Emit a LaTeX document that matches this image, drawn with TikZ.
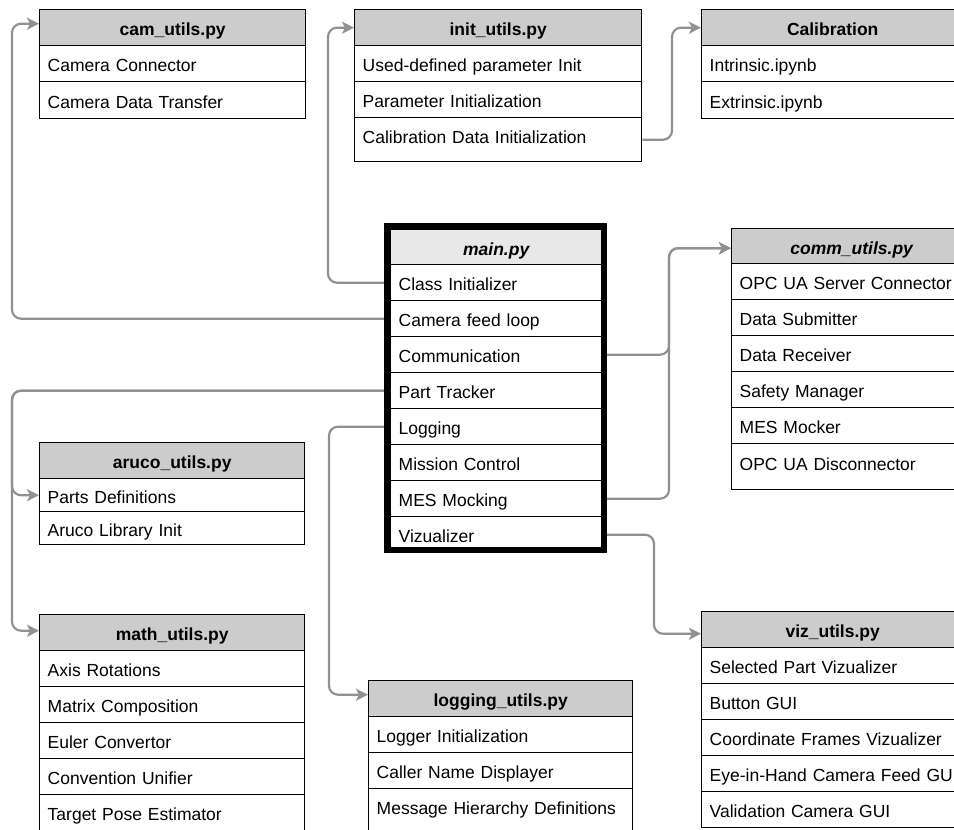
\documentclass[tikz,border=0pt]{standalone}
\usepackage{fontspec}
\setmainfont{Liberation Sans}
\usetikzlibrary{arrows.meta}
\definecolor{hdrgray}{RGB}{204,204,204}
\definecolor{mainhdr}{RGB}{232,232,232}
\definecolor{linkgray}{RGB}{145,145,145}
\newcommand\boxfont{\fontsize{17.5}{21}\selectfont}
\tikzset{
  cell/.style={draw=black, line width=1.4pt, anchor=north west, inner xsep=8pt,
    inner ysep=0pt, text height=20pt, text depth=4pt, font=\boxfont},
  hdr/.style 2 args={cell, fill=hdrgray, text width=#1, minimum height=#2,
    align=center, font=\boxfont\bfseries},
  ihdr/.style 2 args={hdr={#1}{#2}, font=\boxfont\bfseries\itshape},
  row/.style 2 args={cell, fill=white, text width=#1, minimum height=#2, align=left},
  link/.style={draw=linkgray, line width=2.2pt, rounded corners=9pt,
    -{Stealth[length=12pt,width=12pt,inset=3pt]}},
}
\begin{document}
\begin{tikzpicture}[x=1pt,y=-1pt]
\useasboundingbox (0,0) rectangle (954,830);
\clip (0,0) rectangle (954,830);

% cam_utils.py
\node[hdr={250pt}{36pt}] (ch) at (39,9) {cam\_utils.py};
\node[row={250pt}{36pt}] (c1) at (39,45) {Camera Connector};
\node[row={250pt}{37pt}] (c2) at (39,81) {Camera Data Transfer};

% init_utils.py
\node[hdr={271pt}{36pt}] (ih) at (354,9) {init\_utils.py};
\node[row={271pt}{36pt}] (i1) at (354,45) {Used-defined parameter Init};
\node[row={271pt}{36pt}] (i2) at (354,81) {Parameter Initialization};
\node[row={271pt}{44pt}, text depth=12pt] (i3) at (354,117) {Calibration Data Initialization};

% Calibration
\node[hdr={246pt}{36pt}] (kh) at (701,9) {Calibration};
\node[row={246pt}{36pt}] (k1) at (701,45) {Intrinsic.ipynb};
\node[row={246pt}{37pt}] (k2) at (701,81) {Extrinsic.ipynb};

% main.py
\node[ihdr={195pt}{35pt}, fill=mainhdr] (mh) at (390,229) {main.py};
\node[row={195pt}{36pt}] (m1) at (390,264) {Class Initializer};
\node[row={195pt}{36pt}] (m2) at (390,300) {Camera feed loop};
\node[row={195pt}{36pt}] (m3) at (390,336) {Communication};
\node[row={195pt}{36pt}] (m4) at (390,372) {Part Tracker};
\node[row={195pt}{36pt}] (m5) at (390,408) {Logging};
\node[row={195pt}{36pt}] (m6) at (390,444) {Mission Control};
\node[row={195pt}{36pt}] (m7) at (390,480) {MES Mocking};
\node[row={195pt}{36pt}] (m8) at (390,516) {Vizualizer};

% comm_utils.py
\node[ihdr={224pt}{35pt}] (cmh) at (731,228) {comm\_utils.py};
\node[row={224pt}{36pt}] (r1) at (731,263) {\mbox{OPC UA Server Connector}};
\node[row={224pt}{36pt}] (r2) at (731,299) {Data Submitter};
\node[row={224pt}{36pt}] (r3) at (731,335) {Data Receiver};
\node[row={224pt}{36pt}] (r4) at (731,371) {Safety Manager};
\node[row={224pt}{36pt}] (r5) at (731,407) {MES Mocker};
\node[row={224pt}{46pt}, text depth=13pt] (r6) at (731,443) {OPC UA Disconnector};

% aruco_utils.py
\node[hdr={249pt}{36pt}] (ah) at (39,442) {aruco\_utils.py};
\node[row={249pt}{33pt}] (a1) at (39,478) {Parts Definitions};
\node[row={249pt}{33pt}] (a2) at (39,511) {Aruco Library Init};

% math_utils.py
\node[hdr={249pt}{36pt}] (th) at (39,614) {math\_utils.py};
\node[row={249pt}{36pt}] (t1) at (39,650) {Axis Rotations};
\node[row={249pt}{36pt}] (t2) at (39,686) {Matrix Composition};
\node[row={249pt}{36pt}] (t3) at (39,722) {Euler Convertor};
\node[row={249pt}{36pt}] (t4) at (39,758) {Convention Unifier};
\node[row={249pt}{36pt}] (t5) at (39,794) {Target Pose Estimator};

% logging_utils.py
\node[hdr={248pt}{36pt}] (lh) at (368,680) {logging\_utils.py};
\node[row={248pt}{36pt}] (l1) at (368,716) {Logger Initialization};
\node[row={248pt}{36pt}] (l2) at (368,752) {Caller Name Displayer};
\node[row={248pt}{48pt}, text depth=16pt] (l3) at (368,788) {\mbox{Message Hierarchy Definitions}};

% viz_utils.py
\node[hdr={246pt}{36pt}] (vh) at (701,611) {viz\_utils.py};
\node[row={246pt}{36pt}] (v1) at (701,647) {Selected Part Vizualizer};
\node[row={246pt}{36pt}] (v2) at (701,683) {Button GUI};
\node[row={246pt}{36pt}] (v3) at (701,719) {\mbox{Coordinate Frames Vizualizer}};
\node[row={246pt}{36pt}] (v4) at (701,755) {\mbox{Eye-in-Hand Camera Feed GUI}};
\node[row={246pt}{36pt}] (v5) at (701,791) {Validation Camera GUI};

% connectors
\draw[link] (m1.west) -| ([xshift=-26pt]ih.west) -- (ih.west);
\draw[link] (m2.west) -| ([xshift=-27pt,yshift=4pt]ch.west) -- ([yshift=4pt]ch.west);
\draw[link] (m4.west) -| ([xshift=-27pt]a1.west) -- (a1.west);
\draw[link] (m4.west) -| ([xshift=-27pt,yshift=2pt]th.west) -- ([yshift=2pt]th.west);
\draw[link] (m5.west) -| ([xshift=-39pt,yshift=4pt]lh.west) -- ([yshift=4pt]lh.west);
\draw[link] (m3.east) -| ([xshift=-62pt,yshift=-2pt]cmh.west) -- ([yshift=-2pt]cmh.west);
\draw[link] (m7.east) -| ([xshift=-62pt,yshift=-2pt]cmh.west) -- ([yshift=-2pt]cmh.west);
\draw[link] (m8.east) -| ([xshift=-47pt,yshift=-4pt]vh.west) -- ([yshift=-4pt]vh.west);
\draw[link] (i3.east) -| ([xshift=-29pt]kh.west) -- (kh.west);

% heavy frame of main.py
\draw[line width=6pt] (387,226) rectangle (604,550);
\end{tikzpicture}
\end{document}
